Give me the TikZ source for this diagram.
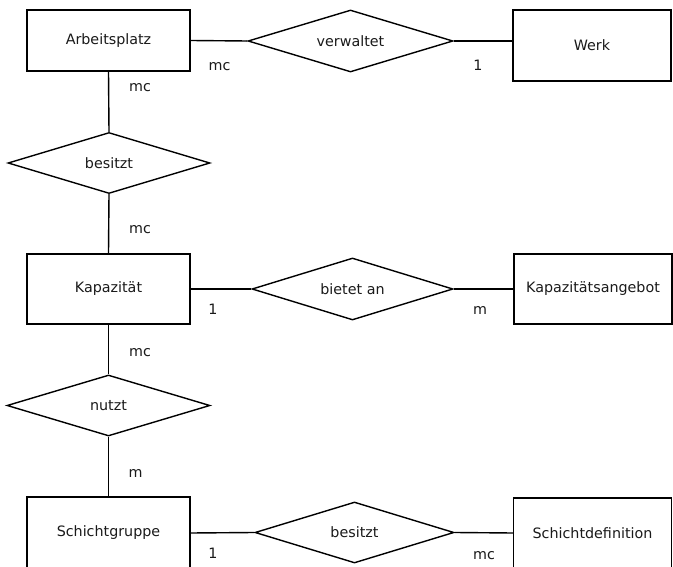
\documentclass[tikz,border=0pt]{standalone}
\usepackage{fontspec}
\setmainfont{DejaVu Sans}
\usetikzlibrary{shapes.geometric}
\definecolor{inkgray}{HTML}{1A1A1A}

\begin{document}
\begin{tikzpicture}[x=1pt, y=-1pt, line width=1.4pt,
  entity/.style={draw=black, fill=white, minimum width=163pt, minimum height=#1,
                 text=inkgray, font=\fontsize{14.3}{17}\selectfont, inner sep=0pt},
  entity/.default=70pt,
  relation/.style={diamond, draw=black, fill=white, shape aspect=3.3,
                   minimum width=#1, minimum height=61pt, text=inkgray,
                   font=\fontsize{14.3}{17}\selectfont, inner sep=0pt},
  relation/.default=202pt,
  card/.style={anchor=base, inner sep=0pt, text=inkgray,
               font=\fontsize{14.3}{17}\selectfont}]

% Background
\fill[white] (0,0) rectangle (673,567);
\useasboundingbox (0,0) rectangle (673,567);

% =========== ENTITIES ===========
\node[entity=61pt] (arbeitsplatz) at (108.5,40.5) {Arbeitsplatz};
\node[entity=71pt, minimum width=158pt] (werk) at (592,45.5) {Werk};
\node[entity] (kapazitaet) at (108.5,289) {Kapazität};
\node[entity, minimum width=158pt] (angebot) at (593,289) {Kapazitätsangebot};
\node[entity=72pt] (schichtgruppe) at (108.5,533) {Schichtgruppe};
\node[entity, minimum width=158pt] (schichtdef) at (592.5,533) {Schichtdefinition};

% =========== RELATIONS ===========
\node[relation=205pt, minimum height=62pt] (verwaltet) at (350.5,41) {verwaltet};
\node[relation] (besitztA) at (109,163) {besitzt};
\node[relation=201pt, minimum height=62pt] (bietet) at (352.5,289) {bietet an};
\node[relation=203pt] (nutzt) at (108.5,405.5) {nutzt};
\node[relation=199pt] (besitztB) at (354.5,532.5) {besitzt};

% Connectors
\draw (arbeitsplatz.east) -- (verwaltet.west);
\draw (verwaltet.east) -- (werk.west |- verwaltet.east);
\draw (arbeitsplatz.south) -- (besitztA.north);
\draw (besitztA.south) -- (kapazitaet.north);
\draw (kapazitaet.east) -- (bietet.west);
\draw (bietet.east) -- (angebot.west);
\draw (kapazitaet.south) -- (nutzt.north);
\draw (nutzt.south) -- (schichtgruppe.north);
\draw (schichtgruppe.east) -- (besitztB.west);
\draw (besitztB.east) -- (schichtdef.west);

% Cardinalities
\node[card] (cardAV) at (219.5,71) {mc};
\node[card] (cardVW) at (478,71) {1};
\node[card] (cardAB) at (140,92) {mc};
\node[card] (cardBK) at (140,234) {mc};
\node[card] (cardKB) at (213,314) {1};
\node[card] (cardBA) at (480,315) {m};
\node[card] (cardKN) at (140,356) {mc};
\node[card] (cardNS) at (135.5,477) {m};
\node[card] (cardSB) at (213,558) {1};
\node[card] (cardBS) at (484,559) {mc};

\end{tikzpicture}
\end{document}
